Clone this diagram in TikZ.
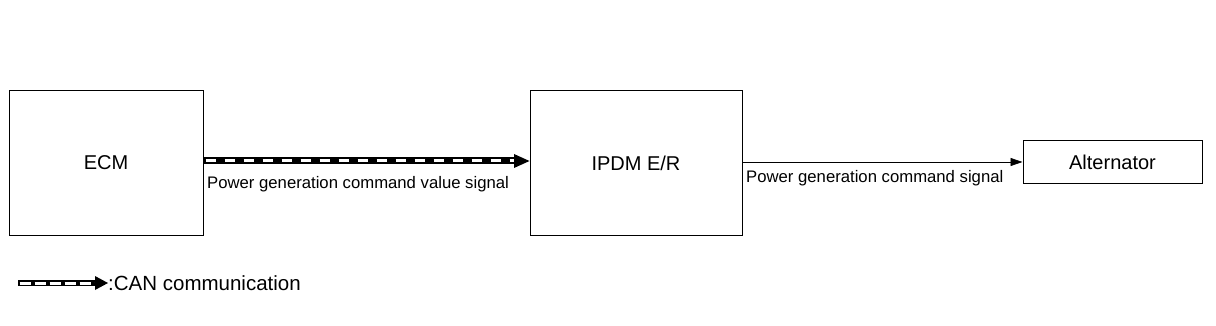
\documentclass[tikz,border=0pt]{standalone}
\usepackage{fontspec}
\setmainfont{Liberation Sans}
\usetikzlibrary{arrows.meta}
\begin{document}
\begin{tikzpicture}[x=1pt,y=-1pt,
  box/.style={draw=black,line width=1pt,inner sep=0pt,font=\fontsize{20}{22}\selectfont},
  lbl/.style={font=\fontsize{16.7}{18}\selectfont,inner sep=0pt},
  canline/.style={line width=7pt,black},
  candash/.style={line width=3pt,white,dash pattern=on 10pt off 9pt},
  thin/.style={line width=0.8pt,-{Triangle[length=12pt,width=8pt]}}]
\useasboundingbox (0,0) rectangle (1216,326);
\node[box,minimum width=194pt,minimum height=144pt] (ecm) at (106,163) {ECM};
\node[box,minimum width=212pt,minimum height=144pt] (ipdm) at (636,163) {IPDM E/R};
\node[box,minimum width=179pt,minimum height=43pt] (alt) at (1112.5,162.5) {Alternator};
% CAN arrow
\coordinate (a1) at (ecm.east |- 0,161);
\coordinate (a2) at (514,161);
\draw[canline] (a1) -- (a2);
\draw[candash] ([xshift=2pt]a1) -- (a2);
\fill (a2 |- 0,154) -- (ipdm.west |- 0,161) -- (a2 |- 0,168) -- cycle;
\node[lbl,anchor=north west] (t1) at (207,176) {Power generation command value signal};
% thin arrow
\draw[thin] (ipdm.east |- 0,162) -- (alt.west |- 0,162);
\node[lbl,anchor=north west] (t2) at (746,170) {Power generation command signal};
% legend
\coordinate (l1) at (18,283);
\coordinate (l2) at (95,283);
\coordinate (l3) at (108,283);
\draw[line width=6pt] (l1) -- (l2);
\draw[line width=3pt,white,dash pattern=on 11pt off 4pt] ([xshift=1.5pt]l1) -- (l2);
\fill (95,276) -- (l3) -- (95,290) -- cycle;
\node[lbl,font=\fontsize{20.5}{22}\selectfont,anchor=west] (t3) at (108,283) {:CAN communication};
\end{tikzpicture}
\end{document}
